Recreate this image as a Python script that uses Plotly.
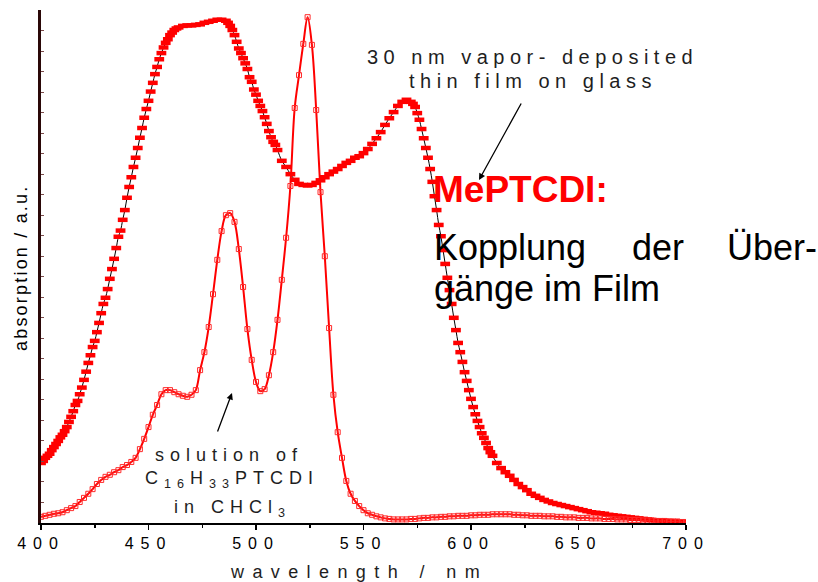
import plotly.graph_objects as go

# ---------------- data ----------------
# solution of C16H33PTCDI in CHCl3 (every 2 nm, 400..700)
solution_nm = list(range(400, 701, 2))
solution_abs = [
    0.012, 0.014, 0.016, 0.018, 0.019, 0.021, 0.025, 0.029, 0.033, 0.041,
    0.049, 0.057, 0.066, 0.076, 0.084, 0.090, 0.094, 0.099, 0.103, 0.109,
    0.113, 0.119, 0.127, 0.144, 0.164, 0.187, 0.211, 0.230, 0.251, 0.259,
    0.259, 0.255, 0.251, 0.248, 0.246, 0.250, 0.259, 0.298, 0.333, 0.382,
    0.446, 0.513, 0.569, 0.600, 0.604, 0.587, 0.534, 0.460, 0.378, 0.318,
    0.275, 0.257, 0.261, 0.288, 0.333, 0.396, 0.474, 0.556, 0.657, 0.809,
    0.873, 0.934, 0.986, 0.932, 0.805, 0.645, 0.520, 0.380, 0.250, 0.177,
    0.127, 0.082, 0.057, 0.043, 0.033, 0.025, 0.019, 0.016, 0.013, 0.011,
    0.009, 0.008, 0.007, 0.007, 0.007, 0.007, 0.008, 0.008, 0.009, 0.010,
    0.010, 0.011, 0.011, 0.012, 0.012, 0.013, 0.013, 0.014, 0.014, 0.014,
    0.015, 0.015, 0.016, 0.016, 0.016, 0.017, 0.017, 0.017, 0.017, 0.017,
    0.016, 0.016, 0.015, 0.015, 0.014, 0.014, 0.014, 0.013, 0.013, 0.013,
    0.012, 0.012, 0.011, 0.011, 0.011, 0.010, 0.010, 0.010, 0.009, 0.009,
    0.009, 0.008, 0.008, 0.008, 0.007, 0.007, 0.007, 0.006, 0.006, 0.006,
    0.005, 0.005, 0.005, 0.004, 0.004, 0.004, 0.003, 0.003, 0.003, 0.002,
    0.002,
]

# 30 nm vapor-deposited thin film on glass
film_nm = (list(range(400, 465)) + list(range(466, 486, 2)) + list(range(486, 511))
           + list(range(512, 572, 2)) + list(range(572, 611)) + list(range(612, 701, 2)))
film_abs = [
    # 400-464
    0.117, 0.121, 0.127, 0.131, 0.135, 0.142, 0.148, 0.154, 0.160, 0.167,
    0.172, 0.179, 0.187, 0.197, 0.207, 0.218, 0.230, 0.238, 0.251, 0.264,
    0.279, 0.295, 0.312, 0.327, 0.343, 0.355, 0.372, 0.390, 0.409, 0.427,
    0.439, 0.456, 0.476, 0.495, 0.515, 0.536, 0.558, 0.570, 0.591, 0.610,
    0.634, 0.655, 0.674, 0.694, 0.712, 0.731, 0.751, 0.770, 0.790, 0.807,
    0.823, 0.841, 0.858, 0.875, 0.889, 0.904, 0.916, 0.927, 0.936, 0.943,
    0.951, 0.956, 0.961, 0.964, 0.966,
    # 466-484
    0.969, 0.970, 0.970, 0.971, 0.972, 0.975, 0.977, 0.979, 0.981, 0.981,
    # 486-510
    0.979, 0.975, 0.969, 0.961, 0.951, 0.938, 0.925, 0.916, 0.906, 0.896,
    0.885, 0.869, 0.860, 0.845, 0.835, 0.823, 0.813, 0.803, 0.791, 0.778,
    0.764, 0.752, 0.743, 0.737, 0.727,
    # 512-570
    0.706, 0.694, 0.680, 0.669, 0.661, 0.659, 0.658, 0.659, 0.663, 0.668,
    0.674, 0.680, 0.685, 0.690, 0.696, 0.702, 0.706, 0.712, 0.715, 0.721,
    0.729, 0.739, 0.750, 0.762, 0.776, 0.789, 0.801, 0.813, 0.821, 0.825,
    # 572-610
    0.821, 0.817, 0.811, 0.799, 0.786, 0.768, 0.750, 0.731, 0.712, 0.690,
    0.665, 0.637, 0.610, 0.581, 0.559, 0.532, 0.505, 0.478, 0.454, 0.427,
    0.400, 0.376, 0.351, 0.333, 0.314, 0.294, 0.277, 0.259, 0.242, 0.226,
    0.212, 0.199, 0.187, 0.175, 0.166, 0.156, 0.146, 0.138, 0.131,
    # 612-700
    0.117, 0.107, 0.099, 0.092, 0.084, 0.076, 0.070, 0.064, 0.057, 0.053,
    0.049, 0.045, 0.042, 0.039, 0.037, 0.035, 0.033, 0.031, 0.029, 0.027,
    0.025, 0.023, 0.021, 0.020, 0.019, 0.018, 0.016, 0.015, 0.014, 0.013,
    0.012, 0.011, 0.010, 0.009, 0.008, 0.007, 0.006, 0.005, 0.005, 0.004,
    0.004, 0.003, 0.003, 0.002, 0.002,
]

x_tick_values = [400, 450, 500, 550, 600, 650, 700]

# ---------------- figure ----------------
FONT = "Liberation Sans, Arial, sans-serif"
W, H = 818, 582
L, R, T, B = 41, 132, 10, 59
PW, PH = W - L - R, H - T - B


def px(xp):
    return (xp - L) / PW


def py(yp):
    return (H - B - yp) / PH


def spaced(text, ls):
    return f"<span style='letter-spacing:{ls}px'>{text}</span>"


fig = go.Figure()
fig.add_trace(go.Scatter(
    x=film_nm, y=film_abs, mode="lines",
    line=dict(color="black", width=1, shape="spline"), hoverinfo="skip"))
fig.add_trace(go.Scatter(
    x=film_nm, y=film_abs, mode="markers", hoverinfo="skip",
    marker=dict(symbol="line-ew", size=7, line=dict(color="#ff0000", width=4.5))))
fig.add_trace(go.Scatter(
    x=solution_nm, y=solution_abs, mode="lines+markers", hoverinfo="skip",
    line=dict(color="#ff0000", width=2, shape="spline"),
    marker=dict(symbol="square-open-dot", size=5, color="#ff2a2a",
                line=dict(width=1, color="#ff2a2a"))))

ann = []
txt_col = "#1e1e1e"
ann.append(dict(text=spaced("30 nm vapor- deposited", 5.5), x=px(532), y=py(57),
                xanchor="center", yanchor="middle", font=dict(size=20, color=txt_col)))
ann.append(dict(text=spaced("thin film on glass", 5.5), x=px(533), y=py(81),
                xanchor="center", yanchor="middle", font=dict(size=20, color=txt_col)))
ann.append(dict(text="", x=px(479), y=py(180), ax=43, ay=-78, showarrow=True,
                arrowhead=2, arrowsize=1, arrowwidth=1.3, arrowcolor="black", standoff=0))
ann.append(dict(text="<b>MePTCDI:</b>", x=px(431), y=py(189), xanchor="left", yanchor="middle",
                font=dict(size=37, color="#ff0000")))
for word, xl in (("Kopplung", 432), ("der", 630), ("Über-", 725)):
    ann.append(dict(text=word, x=px(xl), y=py(247), xanchor="left", yanchor="middle",
                    font=dict(size=36, color="black")))
ann.append(dict(text="gänge im Film", x=px(432), y=py(288), xanchor="left", yanchor="middle",
                font=dict(size=36, color="black")))
ann.append(dict(text=spaced("solution of", 6), x=px(229), y=py(455),
                xanchor="center", yanchor="middle", font=dict(size=18, color=txt_col)))
ann.append(dict(text=spaced("C<sub>16</sub>H<sub>33</sub>PTCDI", 6), x=px(232), y=py(479),
                xanchor="center", yanchor="middle", font=dict(size=18, color=txt_col)))
ann.append(dict(text=spaced("in CHCl<sub>3</sub>", 6), x=px(232), y=py(508),
                xanchor="center", yanchor="middle", font=dict(size=18, color=txt_col)))
ann.append(dict(text="", x=px(232), y=py(393), ax=-15, ay=40, showarrow=True,
                arrowhead=2, arrowsize=1, arrowwidth=1.3, arrowcolor="black", standoff=0))
ann.append(dict(text=spaced("wavelength / nm", 8.4), x=px(228), y=py(572),
                xanchor="left", yanchor="middle", font=dict(size=18, color=txt_col)))
ann.append(dict(text=spaced("absorption / a.u.", 2.2), x=px(21), y=py(268), textangle=-90,
                xanchor="center", yanchor="middle", font=dict(size=18, color="black")))
for a in ann:
    a.setdefault("xref", "paper")
    a.setdefault("yref", "paper")
    a.setdefault("showarrow", False)

fig.update_layout(
    width=W, height=H,
    margin=dict(l=L, r=R, t=T, b=B, pad=0, autoexpand=False),
    paper_bgcolor="white", plot_bgcolor="white",
    showlegend=False,
    font=dict(family=FONT, color="black"),
    annotations=ann,
    xaxis=dict(
        range=[400, 700], tickvals=x_tick_values,
        ticktext=[spaced(str(v), 7) for v in x_tick_values],
        ticks="outside", ticklen=5, tickwidth=1.5, tickcolor="black",
        tickfont=dict(size=16, color="black"),
        showline=True, linecolor="black", linewidth=1.5,
        showgrid=False, zeroline=False, automargin=False,
        minor=dict(ticks="outside", ticklen=3, tickwidth=1.5, tickcolor="black",
                   dtick=25, tick0=400),
    ),
    yaxis=dict(
        range=[0, 1], showticklabels=False, automargin=False,
        ticks="inside", ticklen=3, tickwidth=1, tickcolor="#7a4a4a", dtick=0.04,
        showline=True, linecolor="#2a0808", linewidth=3,
        showgrid=False, zeroline=False,
    ),
)

fig.write_html(
    "out.html",
    config={"displayModeBar": False, "staticPlot": True},
    post_script="document.body.style.margin='0';document.body.style.overflow='hidden';",
)
